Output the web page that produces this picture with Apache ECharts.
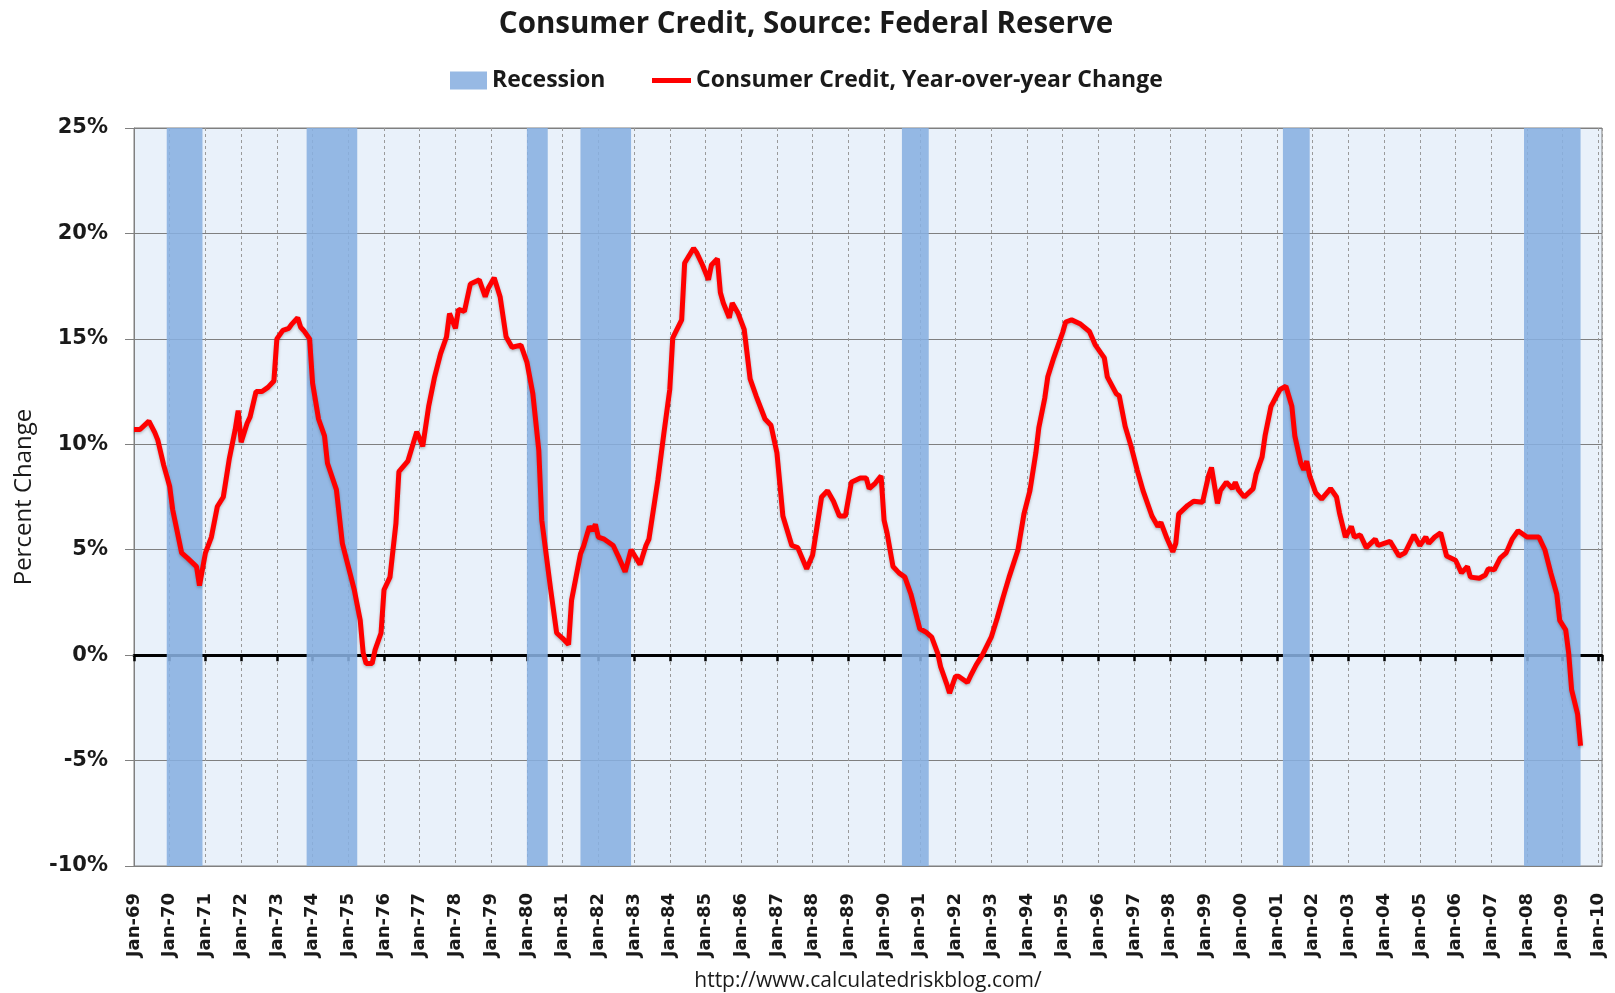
<!DOCTYPE html>
<html><head><meta charset="utf-8">
<script src="https://cdn.jsdelivr.net/npm/echarts@6/dist/echarts.min.js"></script>
<style>html,body{margin:0;padding:0;background:#fff;}#c{width:1615px;height:993px;}</style>
</head><body><div id="c"></div>
<script>
// ---- Data ----
const monthKeys = [
'1969-01','1969-03','1969-06','1969-08','1969-09','1969-11','1970-01','1970-02','1970-05','1970-07','1970-10','1970-11',
'1971-01','1971-03','1971-05','1971-07','1971-09','1971-11','1971-12','1972-01','1972-03','1972-04','1972-06','1972-08','1972-10','1972-12',
'1973-01','1973-03','1973-05','1973-06','1973-08','1973-09','1973-10','1973-12','1974-01','1974-03','1974-05','1974-06','1974-09','1974-11',
'1975-01','1975-03','1975-05','1975-06','1975-07','1975-09','1975-10','1975-12','1976-01','1976-03','1976-05','1976-06','1976-09','1976-12',
'1977-02','1977-04','1977-06','1977-08','1977-10','1977-11','1978-01','1978-02','1978-04','1978-06','1978-09','1978-11','1978-12',
'1979-02','1979-04','1979-06','1979-08','1979-11','1980-01','1980-03','1980-05','1980-06','1980-09','1980-11',
'1981-01','1981-03','1981-04','1981-07','1981-08','1981-10','1981-11','1981-12','1982-01','1982-03','1982-06','1982-08','1982-10','1982-12',
'1983-03','1983-05','1983-06','1983-09','1983-11','1984-01','1984-02','1984-05','1984-06','1984-09','1984-10','1984-12',
'1985-02','1985-03','1985-05','1985-06','1985-07','1985-09','1985-10','1985-12','1986-02','1986-04','1986-06','1986-09','1986-11',
'1987-01','1987-03','1987-06','1987-08','1987-11','1988-01','1988-04','1988-06','1988-08','1988-10','1988-12',
'1989-02','1989-05','1989-07','1989-08','1989-10','1989-12','1990-01','1990-02','1990-04','1990-06','1990-08','1990-10',
'1991-01','1991-03','1991-05','1991-07','1991-08','1991-10','1991-11','1992-01','1992-02','1992-05','1992-06','1992-08','1992-10',
'1993-01','1993-03','1993-05','1993-07','1993-10','1993-12','1994-02','1994-04','1994-05','1994-07','1994-08','1994-10',
'1995-01','1995-02','1995-04','1995-07','1995-10','1995-12','1996-03','1996-04','1996-07','1996-08','1996-10','1996-12',
'1997-02','1997-04','1997-07','1997-09','1997-10','1997-12','1998-02','1998-03','1998-04','1998-07','1998-09','1998-12',
'1999-02','1999-03','1999-05','1999-06','1999-08','1999-10','1999-11','1999-12','2000-02','2000-05','2000-06','2000-08','2000-09','2000-11',
'2001-02','2001-04','2001-06','2001-07','2001-09','2001-10','2001-11','2001-12','2002-02','2002-04','2002-07','2002-09','2002-10','2002-12',
'2003-02','2003-03','2003-05','2003-07','2003-10','2003-11','2004-01','2004-03','2004-06','2004-08','2004-11',
'2005-01','2005-03','2005-04','2005-06','2005-08','2005-10','2006-01','2006-03','2006-05','2006-06','2006-09','2006-11','2006-12',
'2007-02','2007-04','2007-06','2007-08','2007-10','2008-01','2008-03','2008-05','2008-07','2008-09','2008-11','2008-12',
'2009-02','2009-03','2009-04','2009-06','2009-07'
];
const creditYoY = [
10.7,10.7,11.1,10.55,10.2,9.0,8.0,6.9,4.85,4.6,4.2,3.3,
4.85,5.6,7.05,7.5,9.3,10.7,11.6,10.1,11.0,11.3,12.5,12.5,12.7,13.0,
15.0,15.4,15.5,15.7,16.0,15.55,15.4,15.0,12.9,11.2,10.4,9.1,7.85,5.3,
4.2,3.1,1.65,0.1,-0.4,-0.4,0.25,1.05,3.1,3.7,6.25,8.7,9.2,10.6,
9.9,11.8,13.2,14.3,15.1,16.2,15.5,16.4,16.3,17.6,17.8,17.0,17.4,
17.9,17.0,15.1,14.6,14.7,13.9,12.4,9.7,6.4,3.1,1.05,
0.8,0.5,2.6,4.8,5.15,6.1,5.9,6.2,5.6,5.5,5.2,4.6,3.95,5.0,
4.3,5.2,5.5,8.3,10.5,12.6,15.05,15.9,18.6,19.3,19.1,18.5,
17.8,18.5,18.8,17.2,16.7,16.0,16.7,16.2,15.45,13.1,12.3,11.2,10.9,
9.6,6.6,5.2,5.1,4.1,4.75,7.5,7.8,7.3,6.6,6.6,
8.2,8.4,8.4,7.9,8.15,8.5,6.4,5.8,4.2,3.9,3.7,2.9,
1.25,1.1,0.85,0.1,-0.55,-1.35,-1.8,-1.0,-1.0,-1.3,-1.0,-0.45,0.0,
0.85,1.75,2.75,3.7,5.0,6.7,7.8,9.6,10.8,12.2,13.2,14.1,
15.3,15.8,15.9,15.7,15.35,14.7,14.1,13.2,12.4,12.3,10.85,9.9,
8.8,7.8,6.6,6.1,6.3,5.55,4.9,5.3,6.7,7.1,7.3,7.25,
8.5,8.9,7.2,7.8,8.2,7.9,8.2,7.85,7.5,7.9,8.6,9.4,10.4,11.8,
12.6,12.75,11.8,10.4,9.1,8.8,9.2,8.5,7.7,7.4,7.9,7.5,6.75,5.6,
6.1,5.6,5.7,5.1,5.5,5.2,5.3,5.4,4.7,4.85,5.7,
5.2,5.6,5.3,5.6,5.8,4.7,4.5,3.9,4.2,3.7,3.65,3.8,4.1,
4.05,4.6,4.85,5.5,5.9,5.6,5.6,5.6,5.0,3.9,2.9,1.65,
1.2,0.1,-1.65,-2.8,-4.3
];
const recessionPeaks   = ['1969-12','1973-11','1980-01','1981-07','1990-07','2001-03','2007-12'];
const recessionTroughs = ['1970-11','1975-03','1980-07','1982-11','1991-03','2001-11','2009-06'];
const yTickValues = [-10,-5,0,5,10,15,20,25];
const xTickYears = [1969,1970,1971,1972,1973,1974,1975,1976,1977,1978,1979,1980,1981,1982,1983,1984,1985,1986,1987,1988,1989,1990,1991,1992,1993,1994,1995,1996,1997,1998,1999,2000,2001,2002,2003,2004,2005,2006,2007,2008,2009,2010];

// ---- Build ----
function toYear(s){ const p = s.split('-'); return +p[0] + (+p[1]-1)/12; }
const lineData = monthKeys.map((k,i)=>[toYear(k), creditYoY[i]]);
const areas = recessionPeaks.map((p,i)=>[{xAxis: toYear(p)},{xAxis: toYear(recessionTroughs[i]) + 1/12}]);
const xMin = xTickYears[0], xMax = xTickYears[xTickYears.length-1] + 0.1;
const yMin = yTickValues[0], yMax = yTickValues[yTickValues.length-1];

const chart = echarts.init(document.getElementById('c'), null, {renderer:'canvas'});
const REC_COLOR = '#97b9e4';
const option = {
  animation:false,
  backgroundColor:'#ffffff',
  title:{
    text:'Consumer Credit, Source: Federal Reserve', left:801, textAlign:'center', top:5,
    textStyle:{fontFamily:'Open Sans', fontWeight:'bold', fontSize:29.5, color:'#1a1a1a'}
  },
  legend:[
    {data:['Recession'], left:445, top:64, icon:'rect', itemWidth:37, itemHeight:18, itemGap:0,
     textStyle:{fontFamily:'Open Sans', fontWeight:'bold', fontSize:23, color:'#1a1a1a'}},
    {data:['Consumer Credit, Year-over-year Change'], left:647, top:64, icon:'rect', itemWidth:39, itemHeight:5, itemGap:0,
     textStyle:{fontFamily:'Open Sans', fontWeight:'bold', fontSize:23, color:'#1a1a1a'}}
  ],
  grid:{left:134, right:13, top:128, bottom:127, show:true, borderColor:'#808080', borderWidth:1, backgroundColor:'#e9f1fa'},
  xAxis:[
    {type:'value', min:xMin, max:xMax, interval:1, position:'bottom',
     axisLine:{show:true, onZero:false, lineStyle:{color:'#808080', width:1}},
     axisTick:{show:false},
     axisLabel:{rotate:90, margin:27, fontFamily:'DejaVu Sans', fontWeight:'bold', fontSize:18, color:'#1a1a1a',
       formatter:function(v){ const r=Math.round(v); if(Math.abs(v-r)>1e-6) return ''; return 'Jan-' + String(r%100).padStart(2,'0'); }},
     splitLine:{show:true, lineStyle:{color:'#9a9a9a', type:[3,3], width:1}}},
    {type:'value', min:xMin, max:xMax, interval:1, position:'bottom',
     axisLine:{show:true, onZero:true, lineStyle:{color:'#000', width:3}},
     axisTick:{show:true, inside:false, length:6, lineStyle:{color:'#000', width:2.5}},
     axisLabel:{show:false}, splitLine:{show:false}}
  ],
  yAxis:{type:'value', min:yMin, max:yMax, interval:5,
    name:'Percent Change', nameLocation:'middle', nameGap:98, nameRotate:90,
    nameTextStyle:{fontFamily:'Open Sans', fontSize:24, color:'#1a1a1a'},
    axisLine:{show:true, lineStyle:{color:'#808080'}},
    axisTick:{show:true, length:9, lineStyle:{color:'#808080'}},
    axisLabel:{margin:26, fontFamily:'DejaVu Sans', fontWeight:'bold', fontSize:21, color:'#1a1a1a', formatter:'{value}%'},
    splitLine:{show:true, lineStyle:{color:'#7f7f7f', width:1}}},
  series:[
    {name:'Recession', type:'line', data:[], xAxisIndex:0, color:REC_COLOR, itemStyle:{color:REC_COLOR}, z:1,
     markArea:{silent:true, itemStyle:{color:'rgba(136,175,224,0.88)'}, data:areas}},
    {name:'Consumer Credit, Year-over-year Change', type:'line', xAxisIndex:0, data:lineData, showSymbol:false, z:5,
     color:'#ff0000', itemStyle:{color:'#ff0000'},
     lineStyle:{color:'#ff0000', width:5, shadowBlur:3, shadowColor:'rgba(0,0,0,0.25)', shadowOffsetY:1.5}}
  ],
  graphic:[
    {type:'text', x:868, y:971, style:{text:'http://www.calculatedriskblog.com/', textAlign:'center',
      font:'21px "Open Sans"', fill:'#1a1a1a'}}
  ]
};
chart.setOption(option);
</script></body></html>
